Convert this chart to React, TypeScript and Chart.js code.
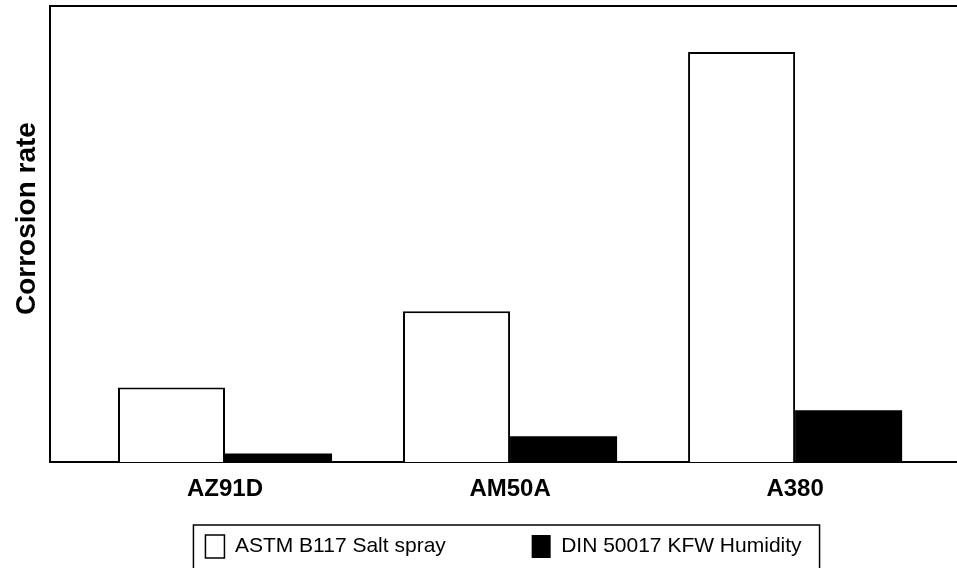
import React, { useEffect, useRef } from "react";
import { Chart, registerables } from "chart.js";

Chart.register(...registerables);

const categories = ["AZ91D", "AM50A", "A380"];
const seriesNames = ["ASTM B117 Salt spray", "DIN 50017 KFW Humidity"];
const saltSpray = [1.64, 3.31, 8.99];
const kfwHumidity = [0.19, 0.57, 1.14];
const yTitle = "Corrosion rate";

const FONT = "'Liberation Sans', Arial, Helvetica, sans-serif";

const legendBorder = {
  id: "legendBorder",
  afterDraw(chart: any) {
    const lg = chart.legend;
    if (!lg || !lg.legendHitBoxes || !lg.legendHitBoxes.length) return;
    const hb = lg.legendHitBoxes;
    const first = hb[0];
    const last = hb[hb.length - 1];
    const ctx = chart.ctx;
    ctx.save();
    ctx.strokeStyle = "#000";
    ctx.lineWidth = 1.5;
    const l = first.left - 12;
    const r = last.left + last.width + 18;
    const t = lg.top;
    const b = lg.bottom + 10;
    ctx.strokeRect(l, t, r - l, b - t);
    ctx.restore();
  },
};

export default function App() {
  const ref = useRef<HTMLCanvasElement>(null);
  useEffect(() => {
    document.body.style.margin = "0";
    if (!ref.current) return;
    const chart = new Chart(ref.current, {
      type: "bar",
      data: {
        datasets: [
          {
            label: seriesNames[0],
            data: categories.map((c, i) => ({ x: i + 1, y: saltSpray[i] })),
            backgroundColor: "#ffffff",
            borderColor: "#000000",
            borderWidth: 2,
            borderSkipped: "start",
            barPercentage: 1,
            categoryPercentage: 0.751,
          },
          {
            label: seriesNames[1],
            data: categories.map((c, i) => ({ x: i + 1, y: kfwHumidity[i] })),
            backgroundColor: "#000000",
            borderColor: "#000000",
            borderWidth: 0,
            barPercentage: 1,
            categoryPercentage: 0.751,
          },
        ],
      },
      options: {
        animation: false,
        responsive: true,
        maintainAspectRatio: false,
        layout: { padding: { top: 6, right: 0, bottom: 0, left: 0 } },
        plugins: {
          tooltip: { enabled: false },
          legend: {
            position: "bottom",
            fullSize: false,
            labels: {
              color: "#000",
              font: { family: FONT, size: 21 },
              boxWidth: 19,
              boxHeight: 23,
              padding: 10,
              generateLabels: (ch: any) => {
                const items = Chart.defaults.plugins.legend.labels.generateLabels(ch);
                return items.map((it: any, i: number) => ({
                  ...it,
                  text: i === 0 ? it.text + " ".repeat(13) : it.text,
                  lineWidth: i === 0 ? 1.5 : 0,
                  strokeStyle: "#000",
                }));
              },
            },
          },
        },
        scales: {
          x: {
            type: "linear",
            min: 0.386,
            max: 3.568,
            offset: false,
            grid: { display: false, drawTicks: false },
            border: { display: true, color: "#000", width: 2 },
            afterBuildTicks: (s: any) => {
              s.ticks = categories.map((c, i) => ({ value: i + 1 }));
            },
            afterFit: (s: any) => {
              s.height += 8;
            },
            ticks: {
              padding: 13,
              color: "#000",
              font: { family: FONT, size: 24, weight: "bold" },
              maxRotation: 0,
              autoSkip: false,
              callback: (v: any) => categories[Math.round(v) - 1] ?? "",
            },
          },
          x2: {
            type: "linear",
            position: "top",
            min: 0,
            max: 1,
            grid: { display: false, drawTicks: false },
            ticks: { display: false },
            border: { display: true, color: "#000", width: 2 },
          },
          y: {
            min: 0,
            max: 10,
            grid: { display: false, drawTicks: false },
            ticks: { display: false },
            border: { display: true, color: "#000", width: 2 },
            title: {
              display: true,
              text: "    " + yTitle,
              color: "#000",
              font: { family: FONT, size: 28, weight: "bold", lineHeight: 1 },
              padding: { top: 13, bottom: 9 },
            },
          },
        },
      },
      plugins: [legendBorder],
    });
    return () => chart.destroy();
  }, []);
  return (
    <div style={{ position: "relative", width: 957, height: 568 }}>
      <canvas ref={ref} />
    </div>
  );
}
